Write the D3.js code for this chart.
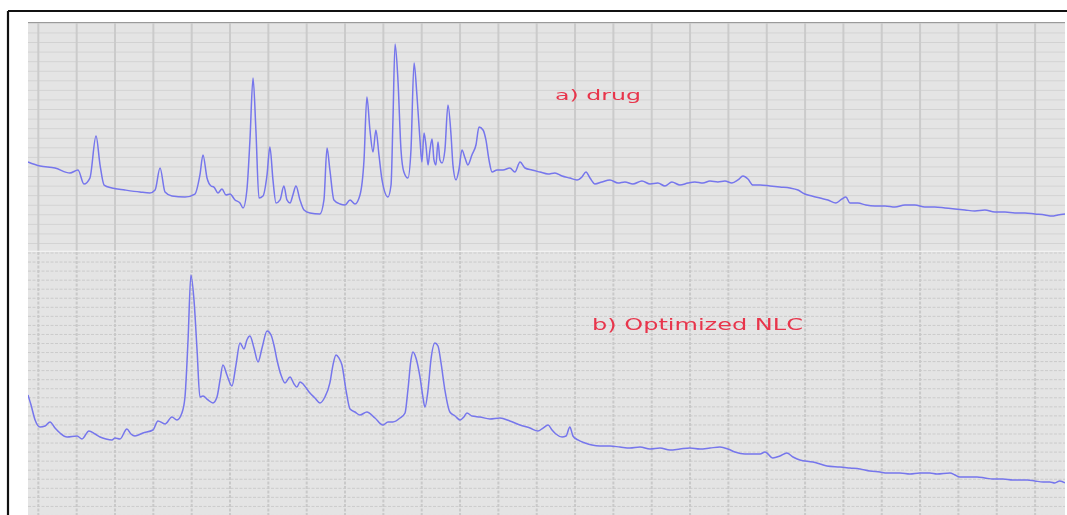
<!DOCTYPE html>
<html>
<head>
<meta charset="utf-8">
<script src="https://cdn.jsdelivr.net/npm/d3@7/dist/d3.min.js"></script>
<style>
  html, body { margin: 0; padding: 0; background: #ffffff; }
  svg { display: block; }
</style>
</head>
<body>
<svg id="chart" width="1067" height="515"></svg>
<script>
// X-ray diffraction patterns: 2θ (degrees) vs intensity (counts)

// a) pure drug
const drugAngle = [
  1.46, 2.09, 2.87, 3.65, 4.07, 4.38, 4.69, 5.01, 5.22, 5.43, 5.84, 6.52, 7.30, 7.82, 8.09, 8.35,
  8.61, 8.97, 9.65, 10.17, 10.43, 10.59, 10.80, 11.01, 11.16, 11.37, 11.58, 11.79, 12.00, 12.26,
  12.52, 12.68, 12.88, 13.04, 13.20, 13.35, 13.51, 13.72, 13.93, 14.08, 14.24, 14.40, 14.61, 14.81,
  14.97, 15.13, 15.28, 15.44, 15.65, 15.86, 16.17, 16.69, 16.90, 17.06, 17.21, 17.42, 17.74, 18.00,
  18.26, 18.52, 18.78, 18.99, 19.14, 19.30, 19.46, 19.61, 19.77, 19.93, 20.24, 20.40, 20.50, 20.61,
  20.76, 20.92, 21.07, 21.28, 21.44, 21.60, 21.75, 21.91, 22.01, 22.12, 22.22, 22.33, 22.43, 22.54,
  22.64, 22.74, 22.85, 22.95, 23.06, 23.21, 23.37, 23.53, 23.63, 23.79, 23.94, 24.10, 24.26, 24.41,
  24.62, 24.83, 24.99, 25.20, 25.35, 25.51, 25.67, 25.93, 26.24, 26.60, 26.86, 27.13, 27.39, 27.75,
  28.17, 28.59, 28.95, 29.32, 29.73, 30.10, 30.36, 30.57, 30.78, 31.04, 31.40, 31.82, 32.24, 32.60,
  33.02, 33.49, 33.91, 34.32, 34.69, 35.05, 35.47, 35.89, 36.25, 36.67, 37.04, 37.45, 37.82, 38.18,
  38.50, 38.76, 39.02, 39.28, 39.65, 40.17, 40.69, 41.21, 41.63, 41.99, 42.36, 42.78, 43.19, 43.61,
  43.92, 44.13, 44.34, 44.76, 45.17, 45.64, 46.17, 46.69, 47.21, 47.73, 48.25, 48.77, 49.30, 49.82,
  50.34, 50.86, 51.38, 51.90, 52.43, 52.95, 53.47, 53.99, 54.51, 54.88, 55.19, 55.56
];
const drugCounts = [
  852, 810, 789, 737, 768, 622, 684, 1123, 820, 611, 580, 559, 538, 528, 559, 789,
  538, 496, 486, 517, 716, 925, 684, 601, 590, 528, 570, 507, 517, 455,
  423, 371, 559, 1082, 1729, 1186, 475, 496, 716, 1008, 664, 423, 455, 601,
  455, 423, 507, 601, 455, 350, 319, 308, 455, 998, 768, 455, 413, 402,
  455, 413, 507, 873, 1531, 1186, 956, 1186, 925, 664, 486, 611, 1291, 2085,
  1709, 977, 747, 684, 977, 1886, 1552, 1082, 852, 1155, 1029, 820, 977, 1092,
  873, 820, 1061, 873, 841, 977, 1447, 1134, 820, 664, 768, 977, 893, 820,
  925, 1029, 1217, 1186, 1082, 873, 747, 768, 768, 789, 747, 852, 789, 768,
  747, 726, 737, 705, 684, 664, 695, 747, 684, 622, 643, 664, 632, 643,
  622, 653, 622, 632, 601, 643, 611, 632, 643, 632, 653, 643, 653, 632,
  664, 705, 674, 611, 611, 601, 590, 580, 559, 517, 496, 475, 455, 423,
  465, 486, 423, 423, 402, 392, 392, 381, 402, 402, 381, 381, 371, 361,
  350, 340, 350, 329, 329, 319, 319, 308, 298, 287, 298, 308
];

// b) optimized NLC
const nlcAngle = [
  1.46, 1.62, 1.83, 2.09, 2.35, 2.61, 2.87, 3.13, 3.50, 4.02, 4.28, 4.64, 4.96, 5.22, 5.53, 5.84,
  6.00, 6.26, 6.62, 6.83, 7.04, 7.46, 7.98, 8.24, 8.61, 8.97, 9.23, 9.49, 9.65, 9.81, 9.96, 10.12,
  10.28, 10.43, 10.59, 10.85, 11.11, 11.32, 11.48, 11.63, 11.84, 12.10, 12.31, 12.52, 12.73, 12.88,
  13.04, 13.25, 13.46, 13.67, 13.93, 14.14, 14.29, 14.45, 14.66, 14.87, 15.13, 15.34, 15.49, 15.65,
  15.81, 16.01, 16.17, 16.43, 16.69, 16.95, 17.21, 17.37, 17.53, 17.68, 17.84, 18.05, 18.26, 18.52,
  18.78, 19.14, 19.56, 19.98, 20.24, 20.50, 20.87, 21.13, 21.28, 21.44, 21.54, 21.70, 21.91, 22.07,
  22.17, 22.33, 22.48, 22.69, 22.85, 23.00, 23.21, 23.47, 23.74, 24.00, 24.20, 24.36, 24.62, 25.04,
  25.56, 26.08, 26.60, 27.13, 27.65, 28.06, 28.33, 28.59, 28.80, 29.00, 29.32, 29.53, 29.73, 29.89,
  30.15, 30.52, 30.88, 31.30, 31.82, 32.34, 32.86, 33.39, 33.91, 34.43, 34.95, 35.47, 35.99, 36.52,
  37.04, 37.56, 37.98, 38.34, 38.86, 39.38, 39.65, 39.91, 40.32, 40.69, 41.05, 41.37, 41.73, 42.41,
  42.78, 43.14, 43.82, 44.34, 44.86, 45.38, 45.91, 46.27, 46.95, 47.47, 47.99, 48.51, 48.88, 49.56,
  49.82, 50.08, 50.60, 50.97, 51.38, 51.80, 52.32, 52.84, 53.21, 53.59, 53.99, 54.41, 54.77, 55.03,
  55.29, 55.56
];
const nlcCounts = [
  1231, 1120, 955, 877, 888, 933, 866, 811, 767, 778, 745, 833, 800, 767, 745, 734,
  756, 745, 855, 800, 778, 811, 844, 944, 911, 988, 955, 1032, 1209, 1839, 2557, 2281,
  1728, 1209, 1220, 1176, 1143, 1209, 1397, 1562, 1452, 1330, 1562, 1806, 1739, 1839,
  1883, 1750, 1596, 1750, 1938, 1894, 1783, 1618, 1452, 1364, 1430, 1353, 1319, 1375,
  1353, 1297, 1253, 1198, 1143, 1209, 1364, 1562, 1673, 1640, 1562, 1286, 1076, 1043,
  1010, 1043, 977, 899, 933, 933, 977, 1032, 1286, 1618, 1706, 1640, 1430, 1198,
  1098, 1286, 1618, 1806, 1772, 1596, 1286, 1043, 999, 955, 988, 1032, 999, 988,
  966, 977, 944, 899, 866, 833, 866, 899, 844, 800, 767, 778, 877, 778,
  734, 701, 678, 667, 667, 656, 645, 656, 634, 645, 623, 634, 645, 634,
  645, 656, 634, 601, 579, 579, 579, 601, 535, 557, 590, 546, 513, 491,
  469, 446, 435, 424, 413, 391, 380, 369, 369, 358, 369, 369, 358, 369,
  347, 325, 325, 325, 314, 303, 303, 292, 292, 292, 281, 270, 270, 259,
  281, 259
];

const panelLabels = ["a) drug", "b) Optimized NLC"];
const gridStepDeg = 2;
const gridStepCounts = 100;

const svg = d3.select("#chart");

// frame and plot area
const frame = { left: 8, top: 11 };
const plotLeft = 28, plotRight = 1065;
const panels = [
  { top: 22, bottom: 251, zeroY: 243.5, pxPerStep: 9.57, angle: drugAngle, counts: drugCounts,
    label: panelLabels[0], labelX: 555, labelY: 100, labelSize: 14, labelLen: 86, dashed: false },
  { top: 252, bottom: 515, zeroY: 506.4, pxPerStep: 9.05, angle: nlcAngle, counts: nlcCounts,
    label: panelLabels[1], labelX: 592, labelY: 330, labelSize: 16, labelLen: 211, dashed: true }
];

const x = d3.scaleLinear().domain([0, 55.56]).range([0, plotRight]);

const defs = svg.append("defs");
defs.append("filter").attr("id", "soft")
  .append("feGaussianBlur").attr("stdDeviation", 0.45);

// outer black border
svg.append("line").attr("x1", frame.left).attr("x2", 1067)
  .attr("y1", frame.top).attr("y2", frame.top)
  .attr("stroke", "#111").attr("stroke-width", 2.2);
svg.append("line").attr("x1", frame.left).attr("x2", frame.left)
  .attr("y1", frame.top).attr("y2", 515)
  .attr("stroke", "#111").attr("stroke-width", 2.2);

panels.forEach((p, i) => {
  // counts -> pixels with the panel's own vertical scale
  const yScale = d3.scaleLinear()
    .domain([0, gridStepCounts])
    .range([p.zeroY, p.zeroY - p.pxPerStep]);

  const g = svg.append("g");
  const clipId = "clip" + i;
  defs.append("clipPath").attr("id", clipId)
    .append("rect").attr("x", plotLeft).attr("y", p.top)
    .attr("width", plotRight - plotLeft).attr("height", p.bottom - p.top);

  g.append("rect").attr("x", plotLeft).attr("y", p.top)
    .attr("width", plotRight - plotLeft).attr("height", p.bottom - p.top)
    .attr("fill", "#e4e4e4");

  const grid = g.append("g").attr("clip-path", `url(#${clipId})`).attr("filter", "url(#soft)");

  // horizontal grid
  const lo = Math.floor(yScale.invert(p.bottom) / gridStepCounts) * gridStepCounts;
  const hi = Math.ceil(yScale.invert(p.top) / gridStepCounts) * gridStepCounts;
  grid.selectAll("line.h").data(d3.range(lo, hi + 1, gridStepCounts)).join("line")
    .attr("class", "h")
    .attr("x1", plotLeft).attr("x2", plotRight)
    .attr("y1", d => yScale(d)).attr("y2", d => yScale(d))
    .attr("stroke", p.dashed ? "#cbcbcb" : "#d3d3d3")
    .attr("stroke-width", 1)
    .attr("stroke-dasharray", p.dashed ? "3,1.5" : null);

  // vertical grid
  grid.selectAll("line.v").data(d3.range(gridStepDeg, 56, gridStepDeg)).join("line")
    .attr("class", "v")
    .attr("x1", d => x(d)).attr("x2", d => x(d))
    .attr("y1", p.top).attr("y2", p.bottom)
    .attr("stroke", p.dashed ? "#c9c9c9" : "#cbcbcb")
    .attr("stroke-width", 2)
    .attr("stroke-dasharray", p.dashed ? "3,1.5" : null);

  // panel separators
  if (i === 0) {
    g.append("line").attr("x1", plotLeft).attr("x2", plotRight)
      .attr("y1", p.top + 0.5).attr("y2", p.top + 0.5)
      .attr("stroke", "#9a9a9a").attr("stroke-width", 1.2);
    g.append("line").attr("x1", plotLeft).attr("x2", plotRight)
      .attr("y1", p.bottom + 0.5).attr("y2", p.bottom + 0.5)
      .attr("stroke", "#f2f2f2").attr("stroke-width", 1.5);
  }

  // diffraction trace
  const data = p.angle.map((a, k) => [a, p.counts[k]]);
  const line = d3.line()
    .x(d => x(d[0]))
    .y(d => yScale(d[1]))
    .curve(d3.curveMonotoneX);
  g.append("path").datum(data)
    .attr("clip-path", `url(#${clipId})`)
    .attr("d", line)
    .attr("fill", "none")
    .attr("stroke", "#7676ec")
    .attr("stroke-width", 1.5)
    .attr("stroke-linejoin", "round")
    .attr("filter", "url(#soft)");

  // panel label
  g.append("text")
    .attr("x", p.labelX).attr("y", p.labelY)
    .attr("textLength", p.labelLen).attr("lengthAdjust", "spacingAndGlyphs")
    .attr("font-family", "DejaVu Sans, sans-serif")
    .attr("font-size", p.labelSize)
    .attr("fill", "#e8354c")
    .attr("filter", "url(#soft)")
    .text(p.label);
});
</script>
</body>
</html>
